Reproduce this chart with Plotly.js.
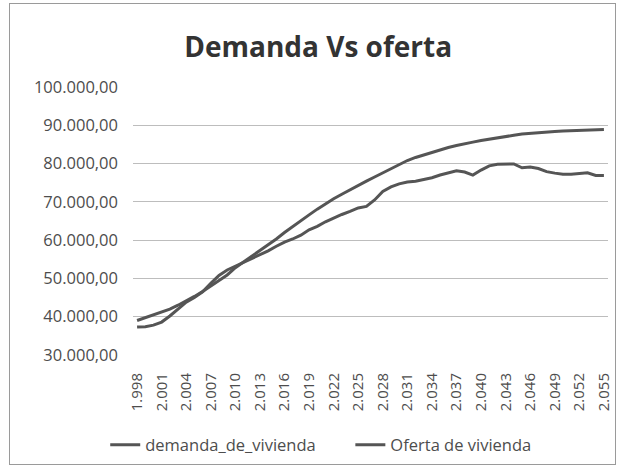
<!DOCTYPE html>
<html>
<head>
<meta charset="utf-8">
<script src="https://cdn.plot.ly/plotly-3.0.1.min.js"></script>
<style>
html,body{margin:0;padding:0;background:#fff;}
#frame{position:absolute;left:9px;top:3px;width:607px;height:462px;border:1px solid #9a9a9a;box-sizing:border-box;pointer-events:none;}
#chart{position:absolute;left:0;top:0;width:619px;height:468px;}
</style>
</head>
<body>
<div id="chart"></div>
<div id="frame"></div>
<script>
var years = [1998,1999,2000,2001,2002,2003,2004,2005,2006,2007,2008,2009,2010,2011,2012,2013,2014,2015,2016,2017,2018,2019,2020,2021,2022,2023,2024,2025,2026,2027,2028,2029,2030,2031,2032,2033,2034,2035,2036,2037,2038,2039,2040,2041,2042,2043,2044,2045,2046,2047,2048,2049,2050,2051,2052,2053,2054,2055];

var demanda = [39000,39700,40400,41100,42000,43000,44100,45300,46600,48000,49300,50900,52800,54300,55600,57100,58700,60300,62000,63600,65100,66600,68100,69500,70800,72000,73200,74300,75400,76500,77600,78800,79900,80800,81600,82300,82900,83600,84200,84700,85200,85600,86000,86400,86800,87100,87400,87700,87900,88100,88300,88400,88500,88600,88700,88750,88800,88900];

var oferta = [37300,37400,37800,38600,40200,42000,43800,45000,46500,48700,50800,52200,53200,54000,55100,56100,57200,58400,59500,60300,61300,62700,63600,64800,65800,66700,67500,68400,68800,70500,72700,73900,74700,75200,75400,75800,76300,77000,77600,78100,77800,77000,78300,79400,79800,79900,79900,78900,79100,78700,77900,77500,77200,77200,77400,77600,76900,76900];

var xTickVals = [1998,2001,2004,2007,2010,2013,2016,2019,2022,2025,2028,2031,2034,2037,2040,2043,2046,2049,2052,2055];
var xTickText = ["1.998","2.001","2.004","2.007","2.010","2.013","2.016","2.019","2.022","2.025","2.028","2.031","2.034","2.037","2.040","2.043","2.046","2.049","2.052","2.055"];
var yTickVals = [30000,40000,50000,60000,70000,80000,90000,100000];
var yTickText = ["30.000,00","40.000,00","50.000,00","60.000,00","70.000,00","80.000,00","90.000,00","100.000,00"];

var lineColor = '#555555';
var traces = [
  {x: years, y: demanda, name: 'demanda_de_vivienda', type: 'scatter', mode: 'lines',
   line: {color: lineColor, width: 3}, legend: 'legend'},
  {x: years, y: oferta, name: 'Oferta de vivienda', type: 'scatter', mode: 'lines',
   line: {color: lineColor, width: 3}, legend: 'legend2'}
];

var legendFont = {size: 16.5, color: '#4d4d4d'};
var layout = {
  width: 619, height: 468,
  margin: {l: 133, r: 11, t: 87, b: 113},
  paper_bgcolor: '#ffffff', plot_bgcolor: '#ffffff',
  font: {family: 'Open Sans, sans-serif', color: '#4d4d4d'},
  title: {text: '<b>Demanda Vs oferta</b>', font: {size: 28, color: '#333333', family: 'Open Sans, sans-serif'},
          x: 0.514, xanchor: 'center', y: 0.9, yanchor: 'middle'},
  xaxis: {range: [1997.5, 2055.5], tickmode: 'array', tickvals: xTickVals, ticktext: xTickText,
          tickangle: -90, tickfont: {size: 15, color: '#4d4d4d'}, showgrid: false, zeroline: false,
          showline: false, ticks: '', ticklabelstandoff: 14, fixedrange: true},
  yaxis: {range: [30000, 100000], tickmode: 'array', tickvals: yTickVals, ticktext: yTickText,
          tickfont: {size: 16.5, color: '#4d4d4d'}, showgrid: true, gridcolor: '#bdbdbd', gridwidth: 1.2,
          zeroline: false, showline: false, ticks: '', ticklabelstandoff: 14, fixedrange: true},
  showlegend: true,
  legend: {orientation: 'h', xref: 'container', yref: 'container', x: 0.17, xanchor: 'left',
           y: 0.049, yanchor: 'middle', font: legendFont},
  legend2: {orientation: 'h', xref: 'container', yref: 'container', x: 0.566, xanchor: 'left',
           y: 0.049, yanchor: 'middle', font: legendFont}
};

Plotly.newPlot('chart', traces, layout, {displayModeBar: false, staticPlot: true});
</script>
</body>
</html>
